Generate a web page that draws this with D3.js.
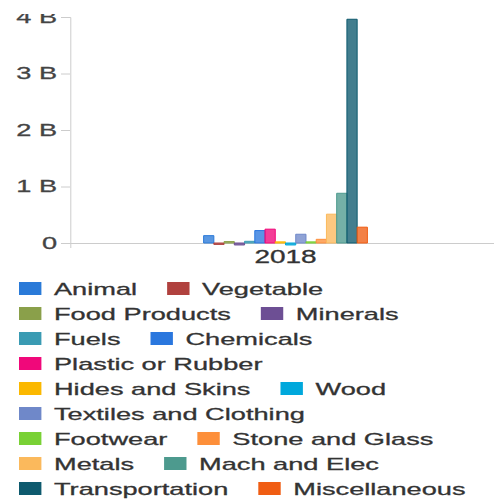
<!DOCTYPE html>
<html>
<head>
<meta charset="utf-8">
<script src="https://cdn.jsdelivr.net/npm/d3@7"></script>
<style>
  body { margin: 0; background: #fff; }
  svg { display: block; }
  text { font-family: Arial, "Liberation Sans", sans-serif; }
</style>
</head>
<body>
<div id="chart"></div>
<script>
const years = ["2018"];
const categories = [
  "Animal", "Vegetable", "Food Products", "Minerals", "Fuels", "Chemicals",
  "Plastic or Rubber", "Hides and Skins", "Wood", "Textiles and Clothing",
  "Footwear", "Stone and Glass", "Metals", "Mach and Elec", "Transportation",
  "Miscellaneous"
];
const colors = [
  "#2a7ad8", "#b0413e", "#8aa04a", "#6d4f94", "#3a9bb3", "#2a77de",
  "#f0087a", "#fbb800", "#00a8dc", "#6f88c9", "#79d135", "#fd8f3a",
  "#fbb95c", "#4d9a8e", "#0e5a6e", "#f05d13"
];
// trade value in dollars, 2018
const values2018 = [
  0.13e9, -0.025e9, 0.025e9, -0.035e9, 0.03e9, 0.22e9,
  0.245e9, 0.02e9, -0.035e9, 0.155e9, 0.02e9, 0.065e9,
  0.51e9, 0.88e9, 3.96e9, 0.28e9
];
const yTicks = [0, 1e9, 2e9, 3e9, 4e9];

const width = 494, height = 499;
// the picture is drawn wider than tall, so stretch everything along x
const stretch = 1.6;
const vbWidth = width / stretch;

const plot = { left: 70 / stretch, right: 501 / stretch, top: 17, zero: 243 };

const svg = d3.select("#chart")
  .append("svg")
  .attr("width", width)
  .attr("height", height)
  .attr("viewBox", `0 0 ${vbWidth} ${height}`)
  .attr("preserveAspectRatio", "none");

svg.append("clipPath")
  .attr("id", "clip")
  .append("rect")
  .attr("x", 0)
  .attr("y", 14)
  .attr("width", vbWidth)
  .attr("height", height);

const chart = svg.append("g").attr("clip-path", "url(#clip)");

const y = d3.scaleLinear().domain([0, 4e9]).range([plot.zero, plot.top]);

const x0 = d3.scaleBand()
  .domain(years)
  .range([plot.left, plot.right])
  .paddingInner(0.62)
  .paddingOuter(0.31);

const x1 = d3.scaleBand()
  .domain(categories)
  .range([0, x0.bandwidth()])
  .padding(0);

// y axis
const yAxis = chart.append("g")
  .attr("transform", "translate(" + plot.left + ",0)")
  .call(
    d3.axisLeft(y)
      .tickValues(yTicks)
      .tickFormat((d) => (d === 0 ? "0" : d / 1e9 + " B"))
      .tickSize(5.6)
      .tickSizeOuter(5.6)
      .tickPadding(2.5)
  );

// x axis (baseline)
const xAxis = chart.append("g")
  .attr("transform", "translate(0," + plot.zero + ")")
  .call(d3.axisBottom(x0).tickSize(0).tickSizeOuter(5).tickPadding(7.7));

[yAxis, xAxis].forEach((g) => {
  g.selectAll("path, line")
    .attr("stroke", "#cccccc")
    .attr("stroke-width", 1)
    .attr("vector-effect", "non-scaling-stroke");
  g.selectAll("text")
    .attr("fill", "#444")
    .attr("stroke", "#444")
    .attr("stroke-width", 0.3)
    .style("font-size", "17px")
    .style("font-family", 'Arial, "Liberation Sans", sans-serif');
});
xAxis.selectAll("text")
  .attr("fill", "#333")
  .attr("stroke", "#333")
  .style("font-size", "17.5px");

// bars
const barData = categories.map((c, i) => ({
  cat: c,
  year: "2018",
  value: values2018[i],
  color: colors[i],
}));

chart.append("g")
  .selectAll("rect")
  .data(barData)
  .join("rect")
  .attr("x", (d) => x0(d.year) + x1(d.cat))
  .attr("y", (d) => y(Math.max(0, d.value)))
  .attr("width", x1.bandwidth())
  .attr("height", (d) => Math.abs(y(d.value) - y(0)))
  .attr("fill", (d) => d.color)
  .attr("fill-opacity", 0.78)
  .attr("stroke", (d) => d.color)
  .attr("stroke-width", 1)
  .attr("vector-effect", "non-scaling-stroke");

// legend, items flow left to right and wrap
const legend = svg.append("g");
const startX = 19 / stretch;
const maxX = 476 / stretch;
const textOffset = (54 - 19) / stretch;
const itemGap = 30 / stretch;
let lx = startX;
let ly = 282;

categories.forEach((c, i) => {
  const item = legend.append("g");
  item.append("rect")
    .attr("x", 0)
    .attr("y", 0)
    .attr("width", 14)
    .attr("height", 13)
    .attr("fill", colors[i]);
  const t = item.append("text")
    .attr("x", textOffset)
    .attr("y", 12.5)
    .attr("fill", "#333")
    .attr("stroke", "#333")
    .attr("stroke-width", 0.3)
    .style("font-size", "17px")
    .text(c);
  const w = textOffset + t.node().getComputedTextLength();
  if (lx + w > maxX && lx > startX) {
    lx = startX;
    ly += 25;
  }
  item.attr("transform", "translate(" + lx + "," + ly + ")");
  lx += w + itemGap;
});
</script>
</body>
</html>
